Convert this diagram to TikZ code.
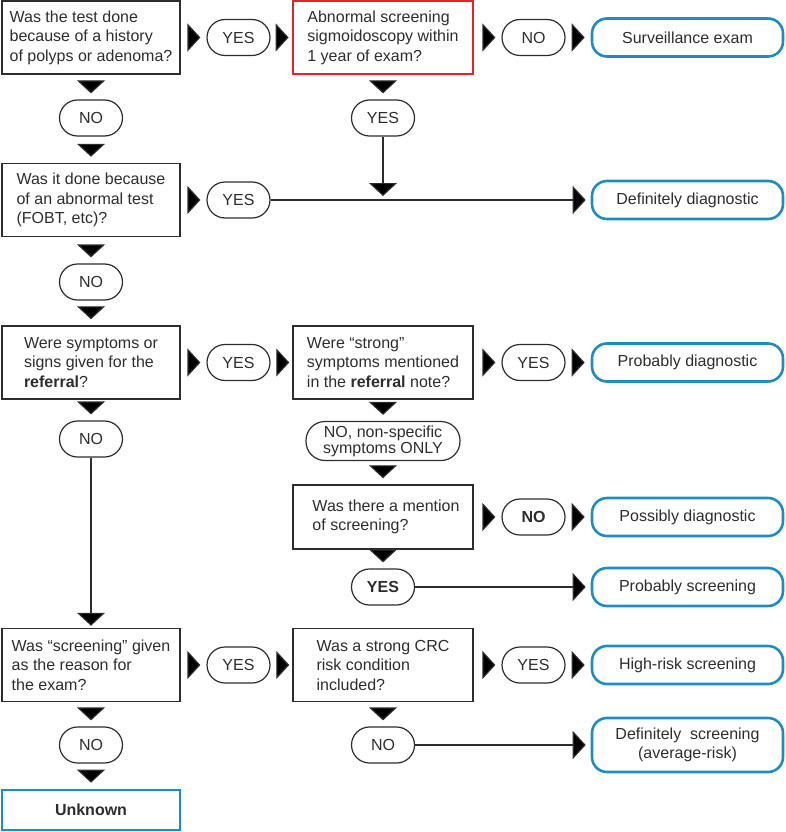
\documentclass[tikz,border=0pt]{standalone}
\usepackage{fontspec}
\setmainfont{Liberation Sans}
\usepackage[dvipsnames]{xcolor}
\usetikzlibrary{arrows.meta}

\definecolor{ink}{RGB}{45,45,45}
\definecolor{termblue}{RGB}{30,140,190}
\definecolor{boxred}{RGB}{225,35,45}

\begin{document}
\begin{tikzpicture}[x=1pt,y=-1pt,>={Triangle[length=13pt,width=28pt]},font=\fontsize{16}{19.5}\selectfont,text=ink,
    question node/.style={rectangle,draw=ink,line width=1.5pt,minimum width=178pt,minimum height=73pt,inner sep=0pt,align=left},
    answer node/.style={rectangle,rounded corners=18pt,draw=ink,line width=1.2pt,minimum width=63pt,minimum height=36pt,inner sep=0pt},
    result node/.style={rectangle,rounded corners=15pt,draw=termblue,line width=2.6pt,minimum width=191pt,minimum height=38pt,inner sep=0pt,align=center}]
            \useasboundingbox (0,0) rectangle (785,832);

            \node[question node] (q1) at (91,37.5) {Was the test done\\because of a history\\of polyps or adenoma?};
            \node[answer node] (y1) at (238.5,37.5) {YES};
            \node[question node,draw=boxred,line width=2.8pt,minimum width=180pt] (q2) at (383,37.5) {Abnormal screening\\sigmoidoscopy within\\1 year of exam?};
            \node[answer node] (n2) at (533.5,37.5) {NO};
            \node[result node] (r1) at (687.5,37.5) {Surveillance exam};

            \node[answer node] (n1) at (91,118) {NO};
            \node[answer node] (y2) at (383,118) {YES};

            \node[question node] (q3) at (91,200) {Was it done because\\of an abnormal test\\(FOBT, etc)?};
            \node[answer node] (y3) at (238.5,200) {YES};
            \coordinate (j1) at (383,200);
            \node[result node] (r2) at (687.5,200) {Definitely diagnostic};

            \node[answer node] (n3) at (91,282) {NO};

            \node[question node] (q4) at (91,362.5) {Were symptoms or\\signs given for the\\\textbf{referral}?};
            \node[answer node] (y4) at (238.5,362.5) {YES};
            \node[question node,minimum width=180pt] (q5) at (383,362.5) {Were “strong”\\symptoms mentioned\\in the \textbf{referral} note?};
            \node[answer node] (y5) at (533.5,362.5) {YES};
            \node[result node] (r3) at (687.5,362.5) {Probably diagnostic};

            \node[answer node] (n4) at (91,439) {NO};
            \node[answer node,minimum width=154pt,minimum height=39pt,rounded corners=19pt,align=center,font=\fontsize{16}{16}\selectfont] (n5) at (383,441) {NO, non-specific\\symptoms ONLY};

            \node[question node,minimum width=180pt,minimum height=64pt] (q6) at (383,517) {\hspace*{6pt}Was there a mention\\\hspace*{6pt}of screening?};
            \node[answer node] (n6) at (533.5,517) {\textbf{NO}};
            \node[result node] (r4) at (687.5,517) {Possibly diagnostic};

            \node[answer node] (y6) at (383,587) {\textbf{YES}};
            \node[result node] (r5) at (687.5,587) {Probably screening};

            \node[question node] (q7) at (91,665) {Was “screening” given\\as the reason for\\the exam?};
            \node[answer node] (y7) at (238.5,665) {YES};
            \node[question node,minimum width=180pt] (q8) at (383,665) {Was a strong CRC\\risk condition\\included?};
            \node[answer node] (y8) at (533.5,665) {YES};
            \node[result node] (r6) at (687.5,665) {High-risk screening};

            \node[answer node] (n7) at (91,745) {NO};
            \node[answer node] (n8) at (383,745) {NO};
            \node[result node,minimum height=54pt] (r7) at (687.5,745) {Definitely\ \ screening\\(average-risk)};

            \node[rectangle,draw=termblue,line width=2.6pt,minimum width=178pt,minimum height=40pt] (r8) at (91,810) {\textbf{Unknown}};

            \path[->,draw=ink,line width=1.2pt,shorten >=6pt,shorten <=14pt]
                (q1) edge (y1)
                (y1) edge[shorten >=3pt] (q2)
                (q2) edge (n2)
                (n2) edge (r1)
                (q1) edge (n1)
                (n1) edge (q3)
                (q2) edge (y2)
                (y2) edge[shorten <=0pt,shorten >=4pt] (j1)
                (q3) edge (y3)
                (y3) edge[shorten <=0pt,shorten >=5pt] (r2)
                (q3) edge (n3)
                (n3) edge (q4)
                (q4) edge (y4)
                (y4) edge[shorten >=3pt] (q5)
                (q5) edge (y5)
                (y5) edge (r3)
                (q4) edge (n4)
                (n4) edge[shorten <=0pt,shorten >=2pt] (q7)
                (q5) edge (n5)
                (n5) edge (q6)
                (q6) edge (n6)
                (n6) edge (r4)
                (q6) edge[shorten <=1pt] (y6)
                (y6) edge[shorten <=0pt,shorten >=5pt] (r5)
                (q7) edge (y7)
                (y7) edge[shorten >=3pt] (q8)
                (q8) edge (y8)
                (y8) edge (r6)
                (q7) edge (n7)
                (n7) edge (r8)
                (q8) edge (n8)
                (n8) edge[shorten <=0pt,shorten >=5pt] (r7)
                ;
        \end{tikzpicture}
\end{document}
